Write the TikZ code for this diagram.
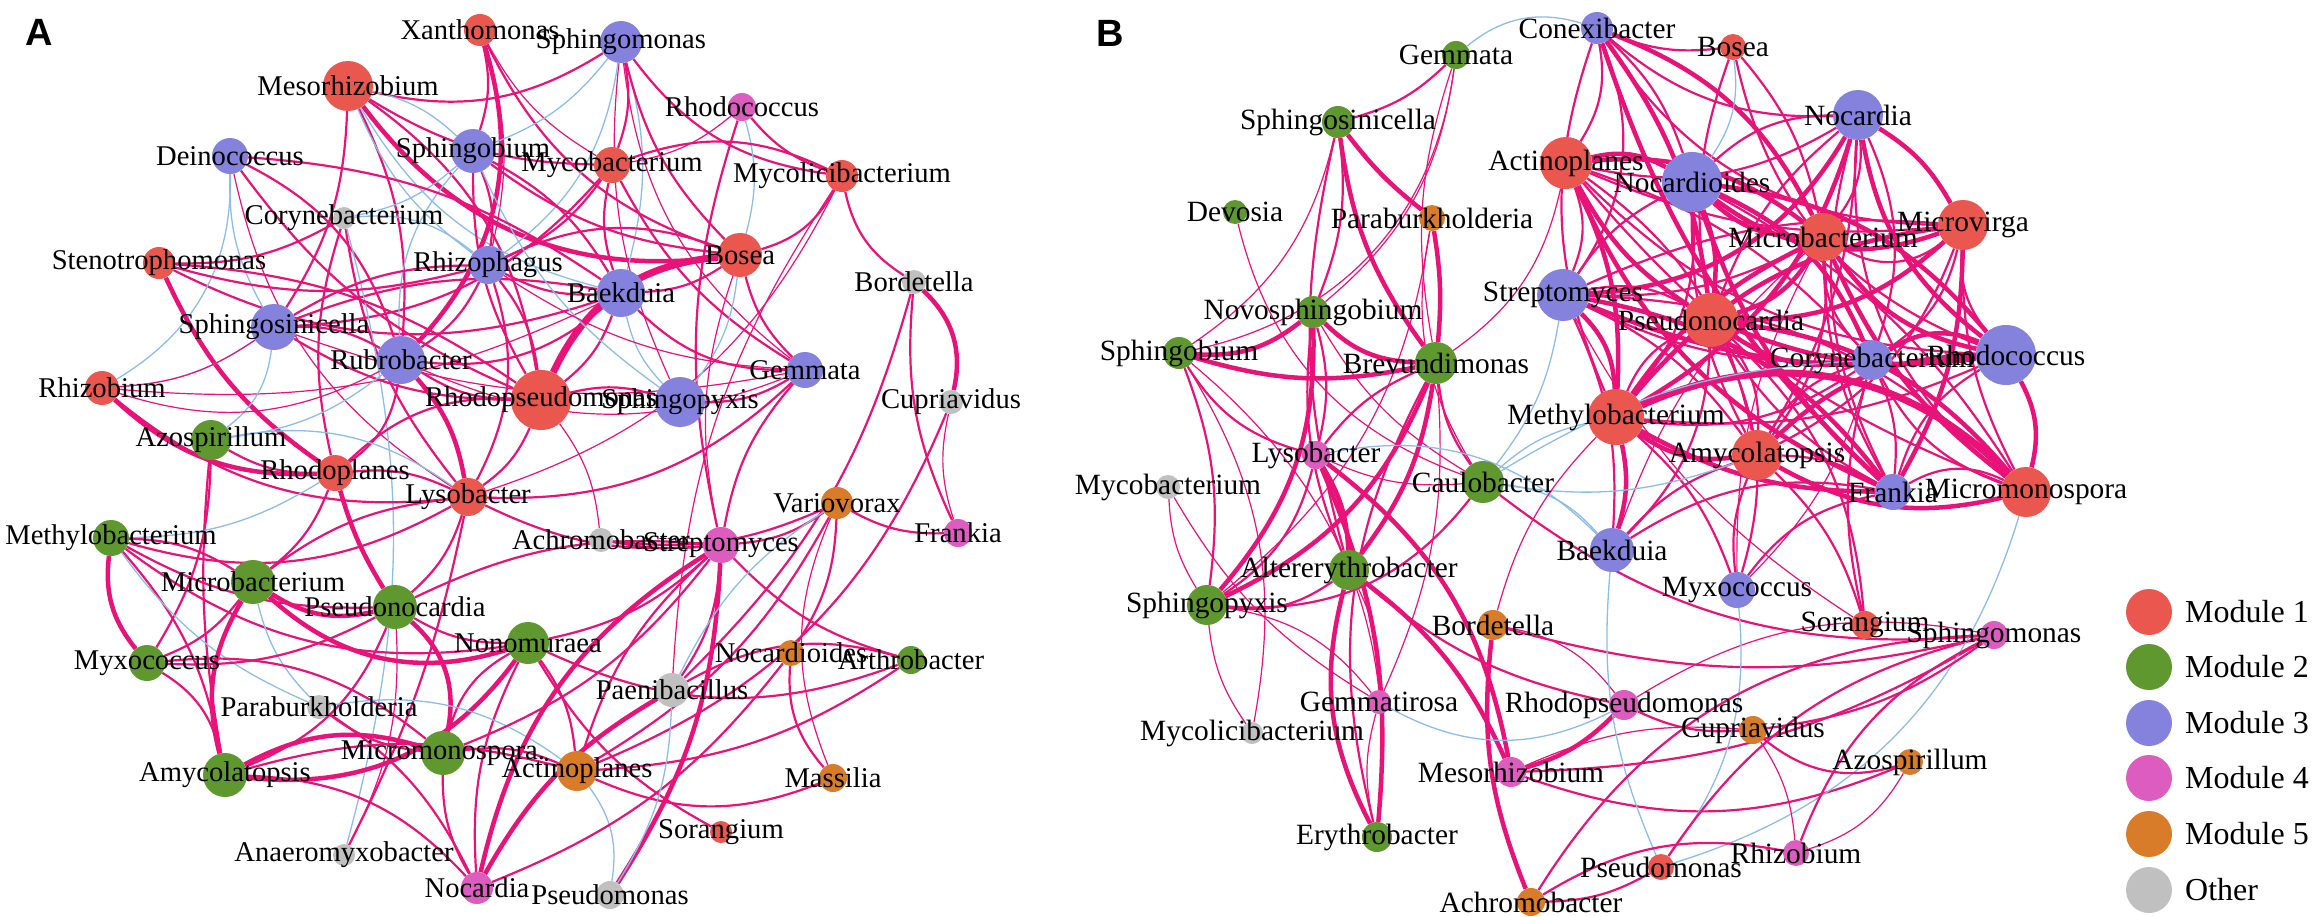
\documentclass[tikz,border=0pt]{standalone}
\usepackage{fontspec}
\setmainfont{Liberation Serif}
\newfontfamily\panelfont{Liberation Sans}
\newfontfamily\labelfont{Liberation Serif}
\usetikzlibrary{backgrounds}
\pgfdeclarelayer{fg}
\pgfsetlayers{background,main,fg}
\definecolor{mA}{RGB}{233,87,79}
\definecolor{mB}{RGB}{96,152,48}
\definecolor{mC}{RGB}{133,130,222}
\definecolor{mD}{RGB}{221,92,192}
\definecolor{mE}{RGB}{216,124,42}
\definecolor{mO}{RGB}{192,192,192}
\definecolor{pk}{RGB}{232,18,120}
\definecolor{lbc}{RGB}{140,188,232}
\tikzset{
  gn/.style={circle,inner sep=0pt,draw=none},
  labA/.style={font=\labelfont\fontsize{28.6}{30}\selectfont,inner sep=0pt,text=black},
  labB/.style={font=\labelfont\fontsize{29.4}{31}\selectfont,inner sep=0pt,text=black},
  t/.style={draw=pk,line width=1.2pt},
  m/.style={draw=pk,line width=2.2pt},
  k/.style={draw=pk,line width=4.5pt},
  K/.style={draw=pk,line width=7pt},
  lb/.style={draw=lbc,line width=1.3pt},
}
\newcommand\gnode[7][labA]{%
  \node[gn,fill=#2,minimum size=2*#3pt] (#4) at (#5,#6) {};
  \begin{pgfonlayer}{fg}\node[#1] at (#4.center) {#7};\end{pgfonlayer}}
\begin{document}
\begin{tikzpicture}[x=1pt,y=-1pt]
\useasboundingbox (0,0) rectangle (2319,916);
\node[font=\panelfont\bfseries\fontsize{38}{40}\selectfont,inner sep=0pt] (pA) at (39,32) {A};
\node[font=\panelfont\bfseries\fontsize{38}{40}\selectfont,inner sep=0pt] (pB) at (1110,33) {B};
% ---------- panel A nodes
\gnode{mA}{16}{aXan}{480}{30}{Xanthomonas}
\gnode{mA}{25}{aMes}{348}{86}{Mesorhizobium}
\gnode{mC}{18}{aDei}{230}{156}{Deinococcus}
\gnode{mC}{22}{aSgb}{473}{151}{Sphingobium}
\gnode{mO}{11}{aCor}{344}{218}{Corynebacterium}
\gnode{mA}{16}{aSte}{159}{263}{Stenotrophomonas}
\gnode{mC}{19}{aRhp}{488}{265}{Rhizophagus}
\gnode{mC}{23}{aSsc}{274}{327}{Sphingosinicella}
\gnode{mC}{24}{aRub}{401}{360}{Rubrobacter}
\gnode{mA}{17}{aRhz}{102}{388}{Rhizobium}
\gnode{mA}{30}{aRps}{541}{400}{Rhodopseudomonas}
\gnode{mB}{20}{aAzo}{211}{440}{Azospirillum}
\gnode{mC}{21}{aSgm}{621}{42}{Sphingomonas}
\gnode{mD}{14}{aRhc}{742}{107}{Rhodococcus}
\gnode{mA}{18}{aMyc}{612}{165}{Mycobacterium}
\gnode{mA}{16}{aMyl}{842}{176}{Mycolicibacterium}
\gnode{mA}{22}{aBos}{740}{255}{Bosea}
\gnode{mC}{24}{aBae}{621}{293}{Baekduia}
\gnode{mO}{12}{aBor}{914}{282}{Bordetella}
\gnode{mC}{18}{aGem}{805}{370}{Gemmata}
\gnode{mC}{25}{aSpx}{680}{402}{Sphingopyxis}
\gnode{mO}{12}{aCup}{951}{402}{Cupriavidus}
\gnode{mA}{18}{aRpl}{335}{473}{Rhodoplanes}
\gnode{mA}{19}{aLys}{468}{497}{Lysobacter}
\gnode{mB}{18}{aMeb}{111}{538}{Methylobacterium}
\gnode{mB}{22}{aMib}{253}{582}{Microbacterium}
\gnode{mB}{22}{aPsn}{395}{607}{Pseudonocardia}
\gnode{mB}{21}{aNon}{528}{643}{Nonomuraea}
\gnode{mB}{18}{aMyx}{147}{663}{Myxococcus}
\gnode{mO}{12}{aPar}{319}{707}{Paraburkholderia}
\gnode{mB}{22}{aMim}{443}{753}{Micromonospora.}
\gnode{mB}{22}{aAmy}{225}{775}{Amycolatopsis}
\gnode{mO}{11}{aAna}{344}{855}{Anaeromyxobacter}
\gnode{mD}{16}{aNoc}{477}{888}{Nocardia}
\gnode{mE}{16}{aVar}{837}{503}{Variovorax}
\gnode{mD}{14}{aFra}{958}{533}{Frankia}
\gnode{mO}{12}{aAch}{601}{540}{Achromobacter}
\gnode{mD}{18}{aStr}{721}{545}{Streptomyces}
\gnode{mE}{13}{aNcd}{791}{653}{Nocardioides}
\gnode{mB}{14}{aArt}{911}{660}{Arthrobacter}
\gnode{mO}{17}{aPae}{672}{690}{Paenibacillus}
\gnode{mE}{20}{aAct}{577}{771}{Actinoplanes}
\gnode{mE}{14}{aMas}{833}{778}{Massilia}
\gnode{mA}{11}{aSor}{721}{832}{Sorangium}
\gnode{mO}{14}{aPsm}{610}{895}{Pseudomonas}
% ---------- panel B nodes
\gnode[labB]{mC}{16}{bCon}{1597}{28}{Conexibacter}
\gnode[labB]{mB}{14}{bGem}{1456}{55}{Gemmata}
\gnode[labB]{mB}{16}{bSsc}{1338}{122}{Sphingosinicella}
\gnode[labB]{mA}{26}{bAct}{1566}{163}{Actinoplanes}
\gnode[labB]{mB}{12}{bDev}{1235}{212}{Devosia}
\gnode[labB]{mE}{13}{bPar}{1432}{218}{Paraburkholderia}
\gnode[labB]{mC}{26}{bStr}{1563}{295}{Streptomyces}
\gnode[labB]{mB}{16}{bNov}{1313}{312}{Novosphingobium}
\gnode[labB]{mB}{16}{bSgb}{1179}{353}{Sphingobium}
\gnode[labB]{mB}{21}{bBre}{1436}{363}{Brevundimonas}
\gnode[labB]{mA}{28}{bMeb}{1616}{417}{Methylobacterium}
\gnode[labB]{mA}{13}{bBos}{1733}{47}{Bosea}
\gnode[labB]{mC}{25}{bNoc}{1858}{115}{Nocardia}
\gnode[labB]{mC}{30}{bNcd}{1692}{182}{Nocardioides}
\gnode[labB]{mA}{24}{bMib}{1823}{237}{Microbacterium}
\gnode[labB]{mA}{25}{bMiv}{1963}{225}{Microvirga}
\gnode[labB]{mA}{27}{bPsn}{1711}{320}{Pseudonocardia}
\gnode[labB]{mC}{20}{bCor}{1872}{360}{Corynebacterium}
\gnode[labB]{mC}{30}{bRhc}{2006}{355}{Rhodococcus}
\gnode[labB]{mA}{25}{bAmy}{1757}{455}{Amycolatopsis}
\gnode[labB]{mD}{14}{bLys}{1316}{455}{Lysobacter}
\gnode[labB]{mO}{12}{bMyc}{1168}{487}{Mycobacterium}
\gnode[labB]{mB}{21}{bCau}{1483}{482}{Caulobacter}
\gnode[labB]{mC}{22}{bBae}{1612}{550}{Baekduia}
\gnode[labB]{mB}{20}{bAlt}{1349}{570}{Altererythrobacter}
\gnode[labB]{mB}{20}{bSpx}{1207}{605}{Sphingopyxis}
\gnode[labB]{mE}{15}{bBor}{1493}{625}{Bordetella}
\gnode[labB]{mD}{12}{bGmt}{1379}{702}{Gemmatirosa}
\gnode[labB]{mD}{15}{bRps}{1624}{705}{Rhodopseudomonas}
\gnode[labB]{mO}{11}{bMyl}{1252}{733}{Mycolicibacterium}
\gnode[labB]{mD}{15}{bMes}{1511}{772}{Mesorhizobium}
\gnode[labB]{mB}{15}{bEry}{1377}{837}{Erythrobacter}
\gnode[labB]{mA}{13}{bPsm}{1661}{867}{Pseudomonas}
\gnode[labB]{mE}{14}{bAch}{1531}{902}{Achromobacter}
\gnode[labB]{mC}{18}{bFra}{1893}{492}{Frankia}
\gnode[labB]{mA}{25}{bMim}{2026}{492}{Micromonospora}
\gnode[labB]{mC}{18}{bMyx}{1737}{590}{Myxococcus}
\gnode[labB]{mA}{14}{bSor}{1865}{625}{Sorangium}
\gnode[labB]{mD}{14}{bSgm}{1994}{635}{Sphingomonas}
\gnode[labB]{mE}{14}{bCup}{1753}{730}{Cupriavidus}
\gnode[labB]{mE}{13}{bAzo}{1910}{762}{Azospirillum}
\gnode[labB]{mD}{13}{bRhz}{1796}{853}{Rhizobium}
% ---------- legend
\foreach \c/\tx/\yy [count=\i] in {mA/Module 1/612,mB/Module 2/667,mC/Module 3/723,mD/Module 4/778,mE/Module 5/834,mO/Other/890}{
  \node[gn,fill=\c,minimum size=46pt] (lg\i) at (2149,\yy) {};
  \node[anchor=west,inner sep=0pt,font=\labelfont\fontsize{32}{34}\selectfont] (lt\i) at (2185,\yy) {\tx};
}
% ---------- edges
\begin{pgfonlayer}{background}
\foreach \a/\b/\s/\d [evaluate=\d as \bb using 1.5*\d] in {
aMes/aBos/k/-20, aMes/aSgm/m/-15, aMes/aMyc/m/-10, aMes/aRub/m/10, aMes/aSgb/lb/10, aMes/aRhp/lb/-10,
aMes/aRps/m/15, aMes/aBae/lb/-15, aMes/aSsc/m/10, aXan/aRub/k/20, aXan/aSgb/m/10, aXan/aBos/m/-15,
aXan/aMyc/t/-10, aXan/aRhp/t/10, aSgm/aMyc/m/10, aSgm/aBae/lb/10, aSgm/aMyl/m/-15, aSgm/aSpx/t/-10,
aSgm/aSgb/lb/10, aSgm/aRhp/lb/15, aSgm/aBos/m/-10, aSgm/aGem/t/-15, aRhc/aMyc/t/10, aRhc/aBos/lb/10,
aRhc/aStr/m/-10, aRhc/aMyl/m/-10, aMyc/aMyl/m/15, aMyc/aBae/m/-10, aMyc/aRhp/m/10, aMyc/aSsc/m/15,
aMyc/aGem/m/-10, aMyl/aBor/m/-15, aMyl/aBos/m/15, aMyl/aLys/t/15, aMyl/aPae/t/-10, aBos/aBae/m/10,
aBos/aGem/m/-10, aBos/aRps/K/-20, aBos/aSpx/lb/10, aBos/aRhp/m/-15, aBos/aSgb/m/10, aBos/aStr/t/-10,
aBae/aRhp/m/10, aBae/aSgb/m/-10, aBae/aRub/m/15, aBae/aSsc/m/-10, aBae/aRps/m/10, aBae/aGem/m/-15,
aBae/aSpx/lb/-10, aBae/aSte/m/15, aBae/aRhz/t/10, aSgb/aRhp/m/10, aSgb/aRps/m/-10, aSgb/aCor/lb/10,
aSgb/aRub/lb/-15, aSgb/aSpx/lb/-10, aDei/aRub/m/15, aDei/aRhz/lb/20, aDei/aBae/m/10, aDei/aRps/m/-10,
aDei/aSsc/lb/-10, aDei/aLys/t/-15, aCor/aSte/m/10, aCor/aRpl/m/-10, aCor/aLys/m/-10, aCor/aRhp/lb/15,
aCor/aAna/lb/10, aSte/aRpl/k/-10, aSte/aRps/m/10, aSte/aRhp/m/-10, aRhp/aRps/m/10, aRhp/aSsc/m/-10,
aRhp/aRub/m/10, aRhp/aGem/t/-10, aRhp/aLys/m/15, aSsc/aRub/m/10, aSsc/aRhz/lb/10, aSsc/aAzo/lb/15,
aSsc/aRps/m/-10, aSsc/aGem/t/-10, aRhz/aRpl/k/-15, aRhz/aSsc/t/-10, aRhz/aLys/m/-15, aRhz/aRub/t/-15,
aRub/aLys/k/10, aRub/aRps/m/-10, aRub/aAzo/lb/10, aRub/aRpl/m/15, aRub/aGem/t/-15, aRps/aLys/m/10,
aRps/aSpx/m/10, aRps/aRpl/m/-15, aRps/aAch/t/10, aGem/aSpx/m/10, aGem/aLys/m/15, aGem/aStr/m/-10,
aBor/aCup/k/20, aBor/aPae/m/10, aBor/aFra/m/-10, aCup/aAct/m/15, aCup/aFra/t/-10, aAzo/aAmy/m/-5,
aAzo/aMyx/m/10, aAzo/aLys/lb/15, aAzo/aRpl/m/-10, aRpl/aPsn/k/-5, aRpl/aLys/m/10, aRpl/aMib/m/10,
aRpl/aMeb/lb/10, aLys/aMeb/m/15, aLys/aMib/m/-10, aLys/aAna/m/5, aLys/aStr/m/-10, aLys/aPsn/m/10,
aMeb/aMyx/k/-15, aMeb/aMib/m/10, aMeb/aPsn/m/-10, aMeb/aNon/m/-15, aMeb/aAmy/m/10, aMeb/aPar/lb/-10,
aMib/aPsn/k/-15, aMib/aNon/k/-20, aMib/aAmy/k/-15, aMib/aMyx/m/10, aMib/aPar/lb/-10, aPsn/aMim/k/20,
aPsn/aMyx/m/10, aPsn/aNon/m/-10, aPsn/aAmy/m/15, aPsn/aAna/t/10, aNon/aAmy/k/20, aNon/aMim/m/-15,
aNon/aAct/m/10, aNon/aNoc/m/-10, aNon/aStr/m/-10, aNon/aArt/m/-15, aNon/aSor/m/-10, aMyx/aAmy/m/15,
aMyx/aMim/m/15, aPar/aMim/m/-10, aPar/aNoc/m/10, aPar/aAct/lb/15, aAmy/aMim/k/15, aAmy/aAct/m/10,
aAmy/aNoc/m/15, aMim/aNoc/m/-10, aMim/aAct/m/10, aMim/aStr/m/-10, aAct/aStr/m/10, aAct/aMas/m/-15,
aAct/aPsm/lb/15, aAct/aVar/m/-10, aAct/aArt/m/-10, aNoc/aStr/k/15, aNoc/aPae/k/10, aStr/aPsm/k/10,
aStr/aVar/m/-10, aStr/aAch/m/5, aStr/aArt/m/-10, aStr/aPae/m/10, aStr/aPsn/m/-10, aVar/aFra/m/-10,
aVar/aNcd/m/10, aVar/aMas/t/-15, aVar/aPae/lb/-10, aVar/aAch/m/10, aNcd/aMas/m/-15, aNcd/aNoc/m/10,
aArt/aPae/m/-15, aPae/aPsm/lb/10}
  \draw[\s] (\a) to[bend left=\bb] (\b);
% panel B
\foreach \a/\b/\s/\d [evaluate=\d as \bb using 1.4*\d] in {
bAct/bNcd/k/15, bAct/bPsn/k/-10, bAct/bMib/k/15, bAct/bFra/k/-15, bAct/bMeb/k/10, bNcd/bMib/k/-15,
bNcd/bRhc/k/15, bNcd/bMiv/k/-20, bNcd/bPsn/k/10, bNcd/bFra/k/-10, bNcd/bCor/k/15, bNoc/bMeb/k/15,
bNoc/bRhc/k/-15, bNoc/bMiv/k/10, bNoc/bStr/k/20, bMib/bRhc/k/-15, bMib/bPsn/k/15, bMib/bMeb/k/-10,
bMiv/bPsn/k/15, bMiv/bMeb/k/-15, bMiv/bFra/k/10, bStr/bMeb/k/15, bStr/bRhc/k/-10, bStr/bFra/k/15,
bPsn/bRhc/k/-10, bPsn/bMim/k/15, bPsn/bCor/k/-15, bCor/bRhc/k/20, bMeb/bMim/K/25, bMeb/bAmy/k/-15,
bAmy/bRhc/k/15, bAmy/bMim/k/-15, bCon/bPsn/k/10, bCon/bFra/k/-10, bCon/bMib/k/15, bMeb/bFra/k/-10,
bRhc/bMim/k/15, bMib/bMim/k/-10,
bCon/bAct/m/15, bCon/bNoc/m/-15, bCon/bStr/m/20, bCon/bBos/m/-10, bCon/bMiv/m/-20, bAct/bStr/m/15,
bAct/bNoc/m/-15, bAct/bMiv/m/-10, bAct/bCor/m/10, bAct/bRhc/m/-15, bAct/bAmy/m/15, bAct/bMim/m/-10,
bNcd/bNoc/m/15, bNcd/bStr/m/-10, bNcd/bMeb/m/15, bNcd/bAmy/m/-10, bNcd/bMim/m/10, bNoc/bMib/m/15,
bNoc/bPsn/m/-10, bNoc/bCor/m/15, bNoc/bFra/m/-15, bNoc/bMim/m/-20, bNoc/bAmy/m/10, bMib/bMiv/m/-25,
bMib/bStr/m/10, bMib/bCor/m/-15, bMib/bAmy/m/15, bMib/bFra/m/-10, bMiv/bCor/m/15, bMiv/bRhc/m/-15,
bMiv/bMim/m/-10, bMiv/bAmy/m/15, bMiv/bStr/m/-10, bStr/bPsn/m/15, bStr/bCor/m/-10, bStr/bAmy/m/10,
bStr/bMim/m/15, bPsn/bMeb/m/-15, bPsn/bAmy/m/15, bPsn/bFra/m/-10, bCor/bMeb/m/15, bCor/bAmy/m/-15,
bCor/bFra/m/10, bCor/bMim/m/-15, bRhc/bMeb/m/10, bRhc/bFra/m/-15, bAmy/bFra/m/10, bFra/bMim/m/20,
bBos/bMib/m/10, bBos/bPsn/m/-10, bBos/bNcd/lb/15, bBos/bRhc/m/-20, bCon/bMeb/m/-15, bCon/bNcd/m/10,
bBae/bMeb/k/-10, bBae/bAmy/m/10, bBae/bPsn/m/-15, bBae/bFra/m/15, bBae/bStr/m/-10, bBae/bMib/t/10,
bMyx/bAmy/m/10, bMyx/bMeb/m/-10, bMyx/bFra/m/15, bMyx/bPsn/m/-15, bMyx/bMib/t/10, bMyx/bCor/t/-10,
bSor/bAmy/m/-10, bSor/bCor/m/10, bSor/bPsn/m/-15, bSor/bStr/t/10, bCau/bMeb/lb/10, bCau/bAmy/lb/-10,
bCau/bBae/lb/15, bCau/bStr/lb/-10, bCau/bCor/lb/10, bCon/bGem/lb/-20, bAct/bBre/t/15,
bGem/bSsc/m/10, bGem/bSgb/t/25, bGem/bBre/t/-10, bGem/bNov/t/15, bSsc/bBre/k/-10, bSsc/bPar/k/-5,
bSsc/bNov/m/10, bSsc/bSgb/t/15, bSsc/bAlt/m/-10, bPar/bBre/k/5, bPar/bCau/t/-15, bPar/bSpx/t/15,
bDev/bCau/t/-20, bNov/bSgb/k/15, bNov/bBre/k/-15, bNov/bLys/m/10, bNov/bSpx/k/15, bNov/bAlt/m/-10,
bNov/bCau/t/-10, bSgb/bLys/m/-15, bSgb/bBre/k/-10, bSgb/bSpx/m/10, bSgb/bMyl/t/15, bSgb/bEry/t/20,
bBre/bAlt/k/10, bBre/bSpx/k/15, bBre/bLys/m/-10, bBre/bCau/m/-10, bBre/bEry/m/-15, bBre/bGmt/t/10,
bLys/bAlt/k/10, bLys/bEry/k/10, bLys/bSpx/m/15, bLys/bBae/lb/20, bLys/bMes/k/15, bLys/bCau/t/-10,
bAlt/bEry/k/-15, bAlt/bSpx/m/15, bAlt/bMes/k/10, bAlt/bRps/m/-10, bAlt/bGmt/t/10, bSpx/bCau/m/-20,
bSpx/bMyc/t/10, bSpx/bGmt/t/15, bSpx/bMyl/t/-10, bMyc/bGmt/t/-10, bCau/bSgm/m/-15, bBor/bAch/k/-10,
bBor/bMeb/t/10, bBor/bRps/t/15, bBor/bSgm/m/-10, bGmt/bRps/lb/-20, bRps/bMes/k/10, bRps/bCup/m/-10,
bRps/bSgm/t/15, bMes/bAzo/m/-15, bMes/bSgm/m/-10, bMes/bCup/t/10, bPsm/bMyx/lb/-15, bPsm/bBae/lb/10,
bPsm/bSgm/m/15, bPsm/bAch/m/10, bPsm/bMim/lb/-20, bAch/bRhz/m/15, bAch/bSgm/m/20, bCup/bAzo/m/-20,
bCup/bRhz/t/10, bCup/bSgm/m/-10, bRhz/bSgm/m/15, bRhz/bAzo/t/-15, bEry/bGmt/t/10}
  \draw[\s] (\a) to[bend left=\bb] (\b);
\end{pgfonlayer}
\end{tikzpicture}
\end{document}
